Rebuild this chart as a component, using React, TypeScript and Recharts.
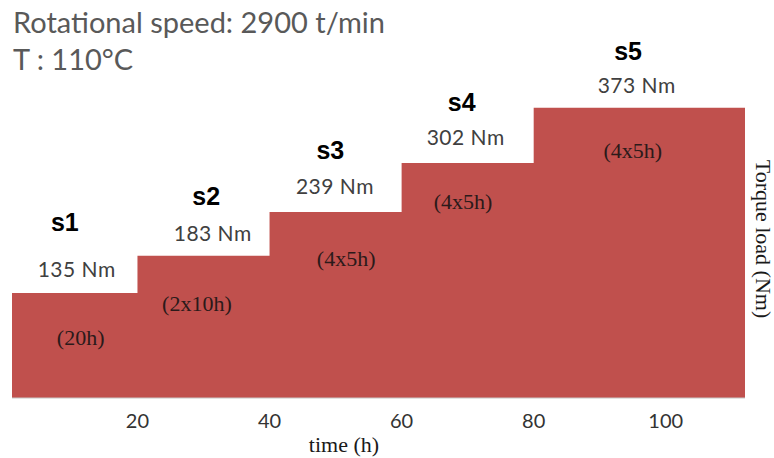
import { AreaChart, Area, XAxis, YAxis, ReferenceDot } from 'recharts'

// stage start times (h), load per stage (Nm)
const stageStart = [1, 20, 40, 60, 80]
const stageEnd = 112
const torque = [135, 183, 239, 302, 373]
const stageNames = ['s1', 's2', 's3', 's4', 's5']
const durations = ['(20h)', '(2x10h)', '(4x5h)', '(4x5h)', '(4x5h)']
const xTicks = [20, 40, 60, 80, 100]

const data = [
  ...stageStart.map((t, i) => ({ t, torque: torque[i] })),
  { t: stageEnd, torque: torque[torque.length - 1] },
]

// annotation anchors in chart units [time, Nm]
const nameAt = [[9.0, 226], [30.4, 260], [49.2, 319], [69.1, 381], [94.3, 446]]
const loadAt = [[10.8, 167], [31.4, 213], [49.9, 273], [69.7, 336], [95.6, 403]]
const durAt = [[11.4, 78], [29.0, 121], [51.6, 179], [69.3, 252], [95.0, 318]]

const sans = 'Lato, "Open Sans", sans-serif'
const serif = '"Liberation Serif", "DejaVu Serif", serif'

const textShape = (text: string, style: React.CSSProperties) => (p: any) => (
  <text
    x={p.cx}
    y={p.cy}
    textAnchor="middle"
    dominantBaseline="central"
    style={style}
  >
    {text}
  </text>
)

export default function App() {
  return (
    <div style={{ position: 'absolute', left: 0, top: 0, width: 774, height: 458, background: '#fff' }}>
      <AreaChart
        width={774}
        height={458}
        data={data}
        margin={{ top: 9, right: 29, left: 12, bottom: 30 }}
      >
        <XAxis
          dataKey="t"
          type="number"
          domain={[1, 112]}
          ticks={xTicks}
          allowDataOverflow
          axisLine={{ stroke: '#c8c8c8' }}
          tickLine={false}
          tickMargin={10}
          height={30}
          tick={{ fill: '#333333', fontSize: 20, fontFamily: sans }}
        />
        <YAxis hide domain={[0, 500]} />
        <Area
          type="stepAfter"
          dataKey="torque"
          stroke="none"
          fill="#C0504D"
          fillOpacity={1}
          baseValue={0}
          isAnimationActive={false}
        />
        {stageNames.map((n, i) => (
          <ReferenceDot
            key={'n' + i}
            x={nameAt[i][0]}
            y={nameAt[i][1]}
            r={0}
            shape={textShape(n, { fontFamily: '"Liberation Sans", Arial, sans-serif', fontWeight: 700, fontSize: 25, fill: '#000' })}
          />
        ))}
        {torque.map((v, i) => (
          <ReferenceDot
            key={'l' + i}
            x={loadAt[i][0]}
            y={loadAt[i][1]}
            r={0}
            shape={textShape(`${v} Nm`, { fontFamily: sans, fontSize: 21, fill: '#404040', letterSpacing: 0.5 })}
          />
        ))}
        {durations.map((d, i) => (
          <ReferenceDot
            key={'d' + i}
            x={durAt[i][0]}
            y={durAt[i][1]}
            r={0}
            shape={textShape(d, { fontFamily: serif, fontSize: 22, fill: '#2b1a1a' })}
          />
        ))}
      </AreaChart>
      <svg
        width={774}
        height={458}
        style={{ position: 'absolute', left: 0, top: 0, pointerEvents: 'none' }}
      >
        <text x={13} y={33} style={{ fontFamily: sans, fontSize: 29, fill: '#595959' }}>
          Rotational speed: 2900 t/min
        </text>
        <text x={13} y={70} style={{ fontFamily: sans, fontSize: 29, fill: '#595959' }}>
          T : 110°C
        </text>
        <text x={344} y={452} textAnchor="middle" style={{ fontFamily: serif, fontSize: 22, fill: '#1a1a1a' }}>
          time (h)
        </text>
        <text
          x={763}
          y={239}
          textAnchor="middle"
          dominantBaseline="central"
          transform="rotate(90, 763, 239)"
          style={{ fontFamily: serif, fontSize: 22, fill: '#1a1a1a' }}
        >
          Torque load (Nm)
        </text>
      </svg>
    </div>
  )
}
